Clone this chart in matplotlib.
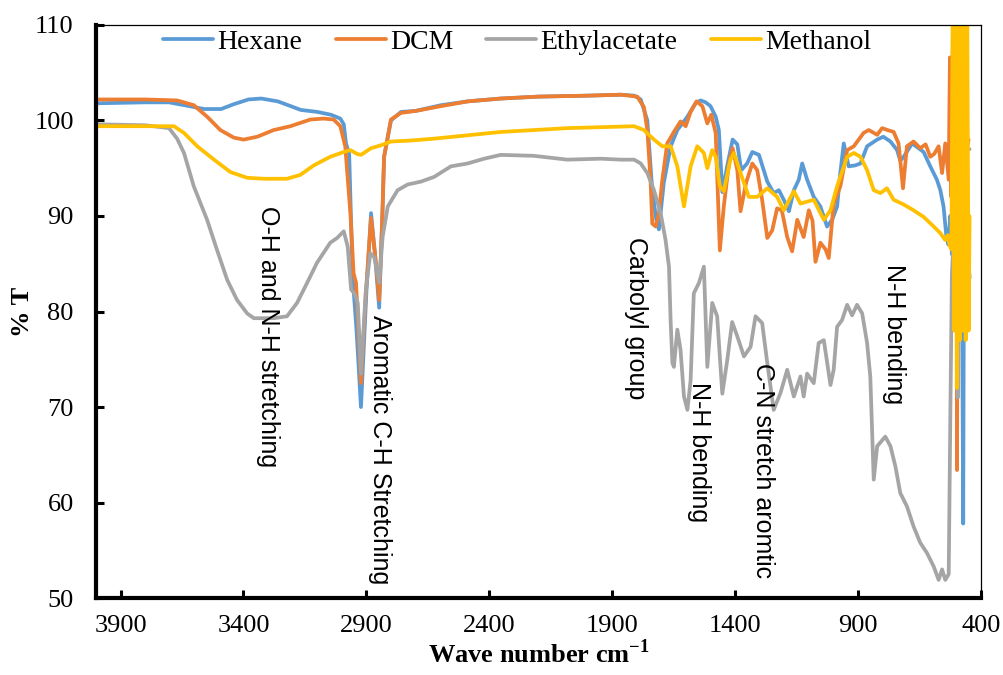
import matplotlib
matplotlib.use("Agg")
import matplotlib.pyplot as plt

plt.rcParams["mathtext.fontset"] = "custom"
plt.rcParams["mathtext.rm"] = "Liberation Serif"
plt.rcParams["mathtext.bf"] = "Liberation Serif:bold"

# ---- FTIR spectra (wavenumber in cm-1, transmittance in %) ----
hexane_wn = [3995, 3800, 3703, 3640, 3560, 3491, 3440, 3380, 3328, 3260, 3166, 3100, 3044,
             3006, 2992, 2983, 2970, 2956, 2940, 2922, 2900, 2881, 2865, 2848, 2835, 2828,
             2800, 2759, 2700, 2597, 2488, 2353, 2200, 2000, 1865, 1811, 1784, 1757, 1737,
             1720, 1710, 1690, 1662, 1635, 1594, 1561, 1540, 1520, 1500, 1479, 1466, 1452,
             1430, 1410, 1391, 1375, 1351, 1330, 1303, 1269, 1243, 1222, 1202, 1181, 1161,
             1141, 1127, 1107, 1080, 1053, 1026, 1005, 985, 972, 958, 938, 911, 890, 863,
             822, 797, 768, 741, 728, 714, 680, 633, 606, 579, 565, 552, 541, 532, 525,
             518, 510, 500, 490, 478, 472, 466, 458, 452, 446]
hexane_t = [101.8, 101.9, 101.9, 101.6, 101.2, 101.2, 101.7, 102.2, 102.3, 102.0, 101.1, 100.9, 100.6,
            100.2, 99.6, 97.6, 96.5, 83.7, 78.0, 70.0, 82.0, 90.3, 86.0, 80.4, 90.0, 96.2,
            100.0, 100.9, 101.0, 101.6, 102.0, 102.3, 102.5, 102.6, 102.7, 102.6, 102.2, 100.0, 92.7,
            89.5, 88.6, 93.5, 97.3, 99.0, 100.4, 101.8, 102.1, 101.9, 101.5, 100.4, 99.0, 92.5,
            95.5, 98.0, 97.5, 94.8, 95.5, 96.7, 96.4, 93.6, 92.4, 92.7, 91.7, 90.5, 92.7,
            93.8, 95.5, 93.8, 92.0, 91.0, 88.9, 89.6, 91.0, 94.5, 97.6, 95.2, 95.3, 95.5, 97.3,
            98.0, 98.3, 97.8, 96.9, 95.8, 96.2, 97.6, 96.7, 95.2, 93.8, 92.7, 91.0, 88.0, 87.0, 90.0,
            86.0, 115.0, 90.0, 115.0, 88.0, 57.8, 115.0, 100.0, 86.0, 83.5]

dcm_wn = [3995, 3800, 3670, 3602, 3548, 3494, 3439, 3399, 3344, 3277, 3209, 3128, 3074, 3033,
          3006, 2986, 2965, 2952, 2942, 2922, 2902, 2881, 2861, 2848, 2835, 2828, 2800, 2759,
          2700, 2597, 2488, 2353, 2200, 2000, 1865, 1798, 1771, 1757, 1744, 1737, 1723, 1710,
          1696, 1676, 1649, 1622, 1601, 1581, 1557, 1533, 1513, 1497, 1479, 1462, 1446, 1425,
          1410, 1391, 1378, 1355, 1330, 1310, 1290, 1269, 1249, 1229, 1210, 1188, 1168, 1147,
          1121, 1100, 1085, 1073, 1053, 1032, 1019, 999, 972, 944, 917, 897, 877, 856, 822,
          802, 780, 755, 735, 717, 701, 674, 647, 625, 606, 590, 572, 558, 545, 531,
          526, 520, 512, 505, 500, 497, 492, 486, 480, 472, 465, 458, 450]
dcm_t = [102.2, 102.2, 102.1, 101.6, 100.4, 99.0, 98.2, 98.0, 98.3, 99.0, 99.4, 100.1, 100.2, 100.1,
         99.4, 97.3, 90.3, 84.0, 83.0, 72.5, 82.0, 89.8, 85.1, 81.2, 90.0, 96.2, 100.1, 100.8,
         101.0, 101.5, 102.0, 102.3, 102.5, 102.6, 102.7, 102.5, 101.4, 99.0, 93.8, 89.2, 88.9, 90.3,
         93.8, 97.6, 98.8, 99.9, 99.4, 100.9, 102.0, 101.5, 99.7, 100.6, 98.7, 86.4, 91.0, 95.5,
         97.1, 94.8, 90.5, 93.5, 95.5, 94.8, 91.7, 87.7, 88.5, 90.8, 90.6, 87.8, 86.3, 89.6,
         87.8, 90.6, 89.5, 85.2, 87.2, 86.5, 85.6, 91.3, 93.1, 96.9, 97.3, 98.0, 98.7, 99.0, 98.5,
         99.2, 99.0, 98.8, 97.6, 92.9, 97.3, 97.8, 97.1, 97.5, 96.2, 96.5, 97.3, 94.5, 97.6, 93.8,
         106.6, 92.0, 115.0, 95.0, 115.0, 63.4, 115.0, 100.0, 115.0, 98.0, 100.0, 97.0, 98.0]

ethyl_wn = [3995, 3800, 3703, 3670, 3642, 3602, 3548, 3507, 3466, 3426, 3385, 3358, 3277, 3223,
            3182, 3141, 3101, 3047, 3019, 2992, 2976, 2962, 2949, 2935, 2922, 2902, 2884, 2868,
            2848, 2834, 2813, 2773, 2732, 2678, 2624, 2556, 2488, 2421, 2353, 2219, 2082, 1947,
            1865, 1811, 1784, 1757, 1730, 1703, 1683, 1669, 1662, 1655, 1649, 1635, 1622, 1608,
            1594, 1581, 1568, 1547, 1527, 1513, 1493, 1473, 1452, 1432, 1412, 1391, 1364, 1337,
            1317, 1290, 1269, 1243, 1215, 1188, 1161, 1134, 1121, 1107, 1080, 1060, 1039, 1012,
            999, 985, 965, 944, 924, 904, 883, 863, 850, 836, 822, 789, 768, 748, 728, 701,
            674, 647, 619, 592, 572, 558, 545, 531, 524, 518, 510, 501, 494, 488, 478, 468,
            458, 446]
ethyl_t = [99.6, 99.5, 99.2, 98.1, 96.6, 93.1, 89.6, 86.4, 83.3, 81.2, 79.8, 79.3, 79.3, 79.5,
           80.9, 83.0, 85.1, 87.2, 87.7, 88.4, 86.8, 82.3, 81.9, 80.9, 73.5, 82.3, 86.1, 85.7,
           83.0, 87.8, 91.0, 92.7, 93.3, 93.6, 94.1, 95.2, 95.5, 96.0, 96.4, 96.3, 95.9, 96.0,
           95.9, 95.9, 95.5, 94.5, 92.7, 90.3, 87.5, 84.7, 78.8, 74.6, 74.2, 78.1, 76.0, 71.1,
           69.7, 72.8, 81.9, 83.0, 84.7, 74.2, 80.9, 79.5, 71.4, 74.9, 78.9, 77.4, 75.3, 76.3,
           79.5, 78.8, 74.6, 69.7, 71.5, 73.9, 71.1, 73.2, 71.1, 73.5, 72.5, 76.7, 77.0, 72.3,
           73.9, 78.4, 79.1, 80.7, 79.6, 80.7, 79.8, 76.7, 73.2, 62.4, 65.9, 66.9, 65.9, 63.8, 61.0, 59.6,
           57.5, 55.8, 54.7, 53.3, 51.9, 53.0, 51.9, 52.5, 70.0, 84.0, 88.0, 99.3, 71.0, 98.0, 96.0, 98.0,
           97.0, 97.0]

methanol_wn = [3995, 3800, 3683, 3642, 3588, 3520, 3453, 3385, 3317, 3223, 3169, 3114, 3047,
               2992, 2965, 2938, 2922, 2881, 2841, 2800, 2719, 2624, 2353, 2082, 1811, 1771,
               1730, 1696, 1662, 1635, 1608, 1581, 1554, 1527, 1513, 1493, 1479, 1462, 1446,
               1419, 1405, 1378, 1344, 1310, 1269, 1229, 1202, 1161, 1134, 1080, 1039, 1012,
               985, 944, 917, 890, 863, 836, 809, 782, 755, 714, 674, 633, 592, 565, 546,
               535, 528, 520, 514, 508, 503, 498, 492, 486, 480, 474, 468, 462, 456, 450, 446]
methanol_t = [99.4, 99.4, 99.4, 98.7, 97.3, 95.9, 94.6, 94.0, 93.9, 93.9, 94.3, 95.3, 96.2,
              96.7, 96.9, 96.5, 96.4, 97.1, 97.4, 97.8, 97.9, 98.1, 98.8, 99.2, 99.4, 99.0,
              98.0, 97.3, 97.3, 95.2, 91.0, 95.2, 97.3, 96.6, 95.0, 96.9, 96.2, 93.1, 92.6,
              95.9, 96.6, 94.5, 92.0, 92.0, 92.9, 92.0, 90.6, 92.6, 91.3, 91.7, 89.6, 90.6,
              93.1, 96.2, 96.6, 96.2, 94.8, 92.7, 92.4, 92.9, 91.7, 91.2, 90.6, 89.9, 88.9, 88.2, 87.5,
              88.0, 87.0, 86.5, 115.0, 78.0, 115.0, 72.0, 115.0, 77.0, 115.0, 78.0, 115.0, 77.0, 115.0,
              78.0, 90.0]

series_names = ["Hexane", "DCM", "Ethylacetate", "Methanol"]
series_colors = ["#5B9BD5", "#ED7D31", "#A5A5A5", "#FFC000"]

x_ticks = [3900, 3400, 2900, 2400, 1900, 1400, 900, 400]
y_ticks = [50, 60, 70, 80, 90, 100, 110]

# band assignments: (label, wavenumber, top of text in %T)
band_labels = [
    ("O-H and N-H stretching", 3300, 91.0),
    ("Aromatic C-H Stretching", 2845, 79.6),
    ("Carbolyl group", 1805, 87.8),
    ("N-H bending", 1547, 72.6),
    ("C-N stretch aromtic", 1285, 74.6),
    ("N-H bending", 752, 85.0),
]

fig = plt.figure(figsize=(10.04, 6.75), dpi=100)
ax = fig.add_axes([0.0956, 0.114, 0.8814, 0.849])

data = [(hexane_wn, hexane_t), (dcm_wn, dcm_t), (ethyl_wn, ethyl_t), (methanol_wn, methanol_t)]
for (wn, t), name, col in zip(data, series_names, series_colors):
    ax.plot(wn, t, color=col, lw=2.7, label=name, solid_joinstyle="round",
            solid_capstyle="round")

ax.set_xlim(4000, 400)
ax.set_ylim(50, 110)
ax.set_xticks(x_ticks)
ax.set_yticks(y_ticks)

serif = "Liberation Serif"
ax.tick_params(axis="both", direction="in", length=6, width=2.2, labelsize=19)
ax.tick_params(axis="x", pad=12)
ax.tick_params(axis="y", pad=16)
for lab in ax.get_xticklabels() + ax.get_yticklabels():
    lab.set_fontfamily(serif)

for side in ("left", "bottom"):
    ax.spines[side].set_linewidth(3.0)
for side in ("top", "right"):
    ax.spines[side].set_linewidth(0.9)

ax.set_xlabel(r"Wave number cm$^{\mathbf{-1}}$", fontsize=19, fontweight="bold",
              fontfamily=serif, labelpad=2)
ax.set_ylabel("% T", fontsize=19, fontweight="bold", fontfamily=serif, labelpad=0)

for text, wn, top in band_labels:
    ax.text(wn, top, text, rotation=-90, ha="center", va="top",
            fontsize=18, fontfamily="Liberation Sans", color="black")

ax.legend(loc="upper center", bbox_to_anchor=(0.476, 1.012), ncol=4, frameon=False,
          prop={"family": serif, "size": 20}, handlelength=1.8, handletextpad=0.15,
          columnspacing=1.2, borderaxespad=0.0)

fig.savefig("out.png", dpi=100)
